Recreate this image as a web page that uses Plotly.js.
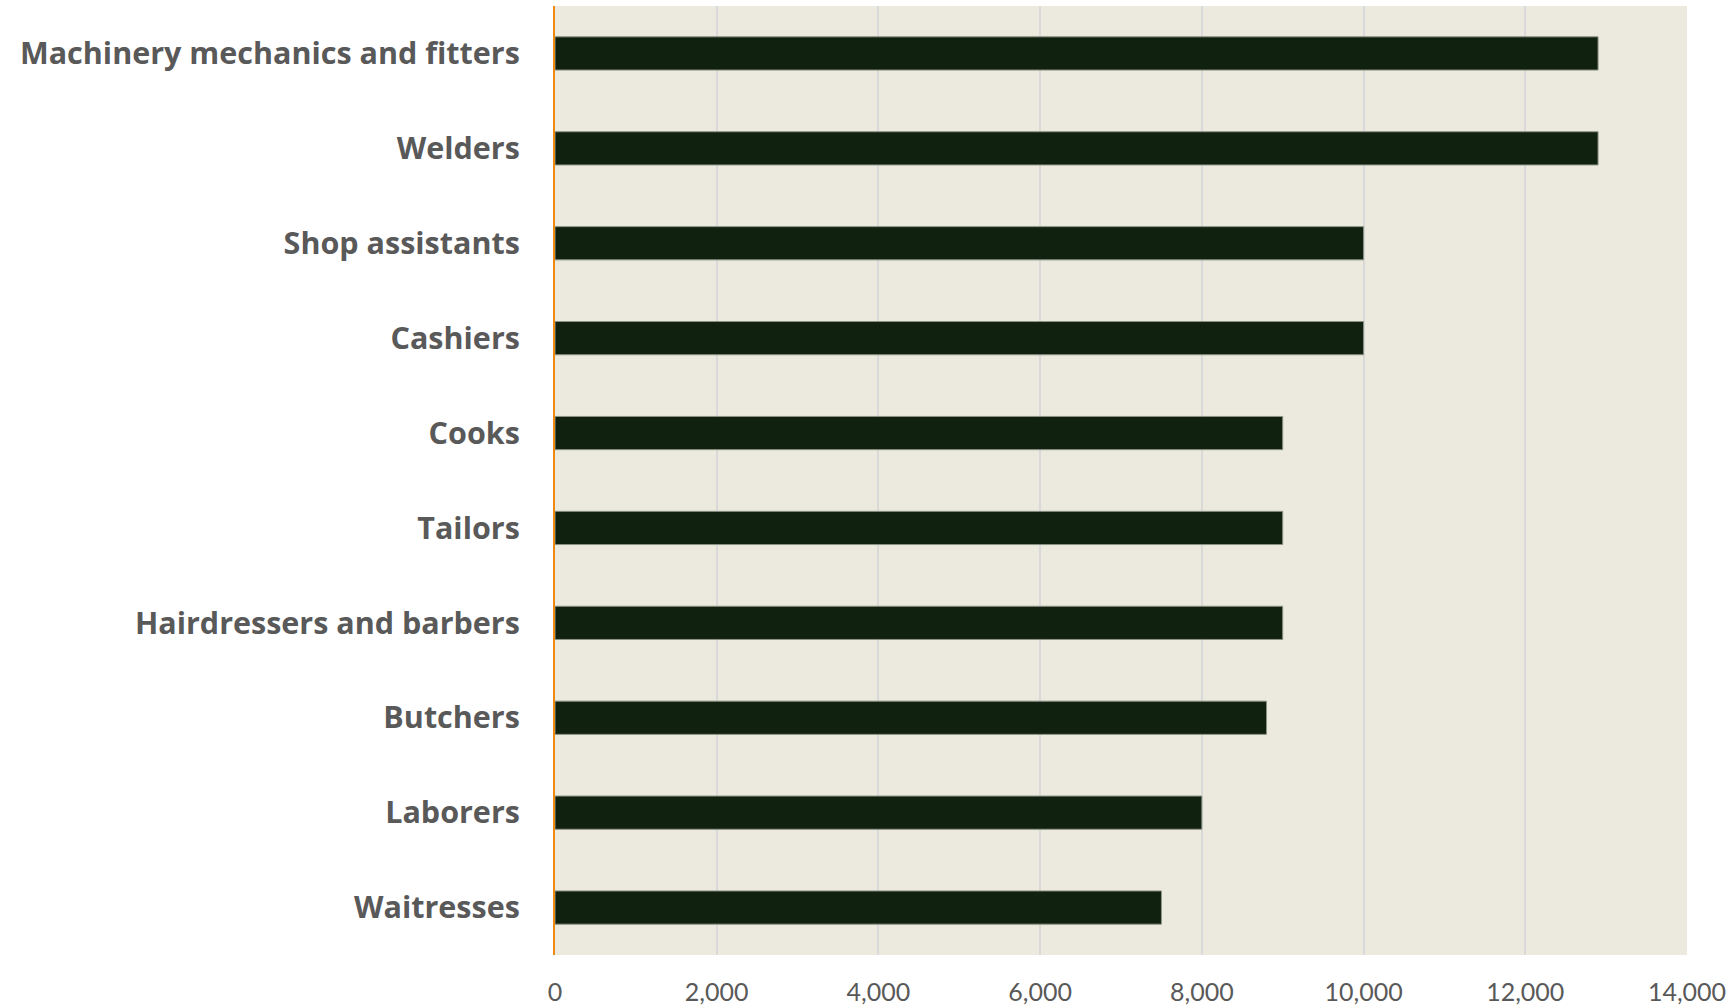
<!DOCTYPE html>
<html>
<head>
<meta charset="utf-8">
<script src="https://cdn.plot.ly/plotly-3.0.1.min.js"></script>
<style>html,body{margin:0;padding:0;background:#fff;}#chart{width:1732px;height:1008px;}</style>
</head>
<body>
<div id="chart"></div>
<script>
const occupations = ["Machinery mechanics and fitters", "Welders", "Shop assistants", "Cashiers", "Cooks", "Tailors", "Hairdressers and barbers", "Butchers", "Laborers", "Waitresses"];
const values = [12900, 12900, 10000, 10000, 9000, 9000, 9000, 8800, 8000, 7500];
const xTickVals = [0, 2000, 4000, 6000, 8000, 10000, 12000, 14000];
const xTickText = ["0", "2,000", "4,000", "6,000", "8,000", "10,000", "12,000", "14,000"];

const trace = {
  type: "bar",
  orientation: "h",
  x: values,
  y: occupations,
  marker: {color: "#10220f", line: {color: "#8c9384", width: 1}},
  hoverinfo: "x+y"
};

const layout = {
  width: 1732,
  height: 1008,
  paper_bgcolor: "#ffffff",
  plot_bgcolor: "#eceadf",
  margin: {l: 555, r: 45, t: 6, b: 53},
  bargap: 0.65,
  showlegend: false,
  font: {family: "Lato, 'Open Sans', sans-serif", color: "#595959"},
  xaxis: {
    range: [0, 14000],
    tickvals: xTickVals,
    ticktext: xTickText,
    showgrid: true,
    gridcolor: "#d9d9d9",
    gridwidth: 2,
    zeroline: false,
    showline: false,
    ticks: "",
    ticklabelstandoff: 20,
    tickfont: {family: "Lato, sans-serif", size: 25, color: "#595959"},
    fixedrange: true
  },
  yaxis: {
    type: "category",
    autorange: "reversed",
    showgrid: false,
    zeroline: false,
    showline: true,
    linecolor: "#ee8a12",
    linewidth: 2,
    ticks: "",
    ticklabelstandoff: 27,
    tickfont: {family: "'Open Sans', sans-serif", size: 30.5, color: "#595959", weight: "bold"},
    fixedrange: true
  }
};

Plotly.newPlot("chart", [trace], layout, {displayModeBar: false, staticPlot: true});
</script>
</body>
</html>
